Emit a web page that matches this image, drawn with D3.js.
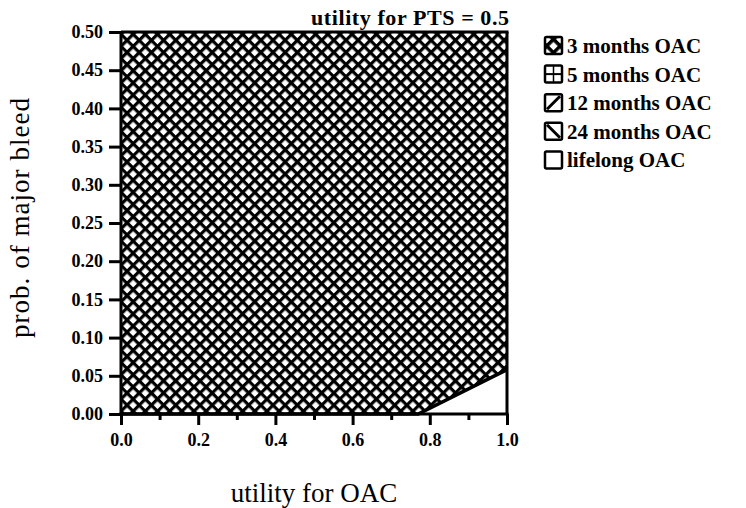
<!DOCTYPE html>
<html><head><meta charset="utf-8">
<script src="https://cdn.jsdelivr.net/npm/d3@7"></script>
<style>body{margin:0;background:#fff}svg{display:block}text{font-family:"Liberation Serif","DejaVu Serif",serif}</style>
</head><body><svg id="c" width="746" height="508"></svg>
<script>
const categories = ["3 months OAC","5 months OAC","12 months OAC","24 months OAC","lifelong OAC"];
const xTicks = [0.0,0.2,0.4,0.6,0.8,1.0];
const xMinor = [0.1,0.3,0.5,0.7,0.9];
const yTicks = [0.00,0.05,0.10,0.15,0.20,0.25,0.30,0.35,0.40,0.45,0.50];
// boundary between "3 months OAC" (above) and "lifelong OAC" (below)
const boundaryX = [0.0, 0.77, 1.0];
const boundaryY = [0.0, 0.0, 0.058];
const title = "utility for PTS = 0.5";

const svg = d3.select("#c");
const x = d3.scaleLinear().domain([0,1]).range([121,507]);
const y = d3.scaleLinear().domain([0,0.5]).range([414,32]);

const defs = svg.append("defs");
function cross(id, s, w, ox, oy){
  const p = defs.append("pattern").attr("id",id).attr("patternUnits","userSpaceOnUse")
    .attr("width",s).attr("height",s).attr("patternTransform",`translate(${ox},${oy}) rotate(45)`);
  p.append("rect").attr("width",s).attr("height",s).attr("fill","#fff");
  p.append("rect").attr("width",s).attr("height",w).attr("fill","#000");
  p.append("rect").attr("width",w).attr("height",s).attr("fill","#000");
}
cross("xh", 8.6, 3.2, x(0), y(0.5));

const line = d3.line().x(d=>x(d[0])).y(d=>y(d[1]));
const bpts = boundaryX.map((v,i)=>[v,boundaryY[i]]);
const topPoly = [[0,0.5]].concat(bpts).concat([[1,0.5]]);
svg.append("path").attr("d", line(topPoly)+"Z").attr("fill","url(#xh)");
const lowPoly = bpts.slice(1).concat([[1,0]]);
svg.append("path").attr("d", line(lowPoly)+"Z").attr("fill","#fff");
svg.append("path").attr("d", line(bpts)).attr("fill","none").attr("stroke","#000").attr("stroke-width",3.5);

const g = svg.append("g").attr("stroke","#000").attr("stroke-width",3).attr("fill","none");
g.append("line").attr("x1",x(0)).attr("x2",x(0)).attr("y1",y(0.5)).attr("y2",y(0)+1.5);
g.append("line").attr("x1",x(0)-1.5).attr("x2",x(1)+1.5).attr("y1",y(0)).attr("y2",y(0));
g.append("line").attr("x1",x(0)).attr("x2",x(1)+1.5).attr("y1",y(0.5)).attr("y2",y(0.5));
g.append("line").attr("x1",x(1)).attr("x2",x(1)).attr("y1",y(0.5)).attr("y2",y(0));

const ya = svg.append("g").attr("transform",`translate(${x(0)},0)`)
  .call(d3.axisLeft(y).tickValues(yTicks).tickFormat(d3.format(".2f")).tickSize(12).tickPadding(6));
ya.select(".domain").remove();
ya.selectAll("line").attr("stroke-width",3);
ya.selectAll("text").attr("font-size",18).attr("font-weight","bold").attr("fill","#000").style("font-family","Liberation Serif");
const xa = svg.append("g").attr("transform",`translate(0,${y(0)})`)
  .call(d3.axisBottom(x).tickValues(xTicks).tickFormat(d3.format(".1f")).tickSize(11).tickPadding(8));
xa.select(".domain").remove();
xa.selectAll("line").attr("stroke-width",3);
xa.selectAll("text").attr("font-size",18).attr("font-weight","bold").attr("fill","#000").style("font-family","Liberation Serif");
const xm = svg.append("g").attr("transform",`translate(0,${y(0)})`)
  .call(d3.axisBottom(x).tickValues(xMinor).tickFormat("").tickSize(6));
xm.select(".domain").remove();
xm.selectAll("line").attr("stroke-width",3);

svg.append("text").attr("x",509).attr("y",25).attr("text-anchor","end")
  .attr("font-size",22).attr("font-weight","bold").attr("textLength",198).text(title);
svg.append("text").attr("x",314).attr("y",502).attr("text-anchor","middle")
  .attr("font-size",27).text("utility for OAC");
svg.append("text").attr("transform","translate(29,218) rotate(-90)").attr("text-anchor","middle")
  .attr("font-size",27).attr("textLength",240).text("prob. of major bleed");

const lx = 545, ly0 = 37, dy = 28.6, bs = 17;
cross("lxh", 9.5, 3.5, lx+bs/2, ly0+bs/2+4.75);
categories.forEach((c,i)=>{
  const gy = ly0 + i*dy;
  const lg = svg.append("g").attr("transform",`translate(${lx},${gy})`);
  lg.append("rect").attr("width",bs).attr("height",bs).attr("fill","#fff");
  if(i===0){
    svg.append("rect").attr("x",lx).attr("y",gy).attr("width",bs).attr("height",bs).attr("fill","url(#lxh)");
  }
  if(i===1){
    lg.append("line").attr("x1",0).attr("x2",bs).attr("y1",bs/2).attr("y2",bs/2).attr("stroke","#000").attr("stroke-width",2);
    lg.append("line").attr("x1",bs/2).attr("x2",bs/2).attr("y1",0).attr("y2",bs).attr("stroke","#000").attr("stroke-width",1.5);
  }
  if(i===2){
    lg.append("line").attr("x1",2).attr("x2",bs-2).attr("y1",bs-2).attr("y2",2).attr("stroke","#000").attr("stroke-width",3);
  }
  if(i===3){
    lg.append("line").attr("x1",2).attr("x2",bs-2).attr("y1",2).attr("y2",bs-2).attr("stroke","#000").attr("stroke-width",3);
  }
  svg.append("rect").attr("x",lx).attr("y",gy).attr("width",bs).attr("height",bs).attr("fill","none").attr("stroke","#000").attr("stroke-width",2.5).attr("rx",1.5);
  svg.append("text").attr("x",lx+bs+5).attr("y",gy+bs-1).attr("font-size",21).attr("font-weight","bold").text(c);
});
</script></body></html>
